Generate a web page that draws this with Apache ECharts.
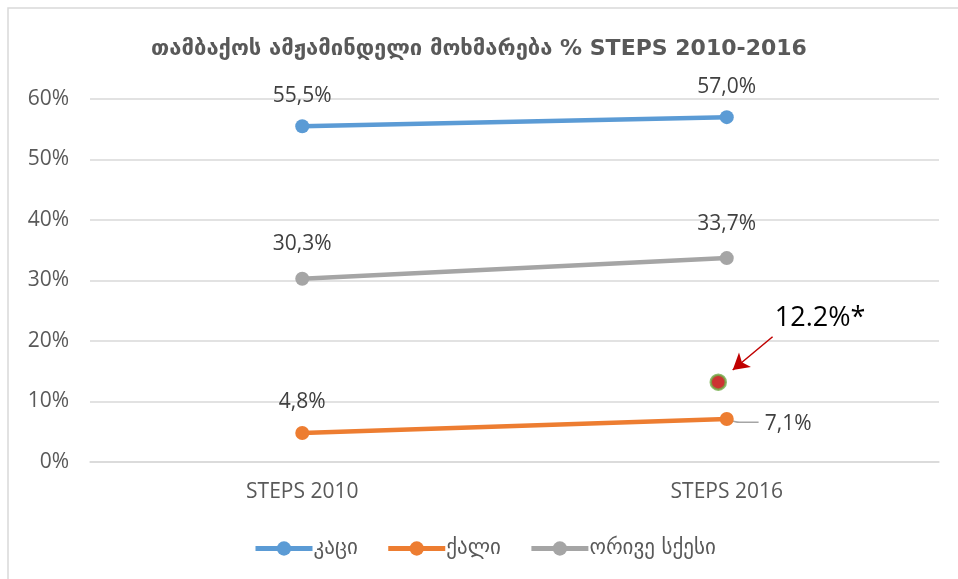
<!DOCTYPE html>
<html><head><meta charset="utf-8">
<script src="https://cdn.jsdelivr.net/npm/echarts@6/dist/echarts.min.js"></script>
<style>html,body{margin:0;padding:0;background:#fff}#c{width:958px;height:579px}</style>
</head><body><div id="c"></div>
<script>
const titleText = 'თამბაქოს ამჟამინდელი მოხმარება % STEPS 2010-2016';
const categories = ['STEPS 2010', 'STEPS 2016'];
const seriesNames = ['კაცი', 'ქალი', 'ორივე სქესი'];
const menValues = [55.5, 57.0];
const womenValues = [4.8, 7.1];
const bothValues = [30.3, 33.7];
const yTicks = [0, 10, 20, 30, 40, 50, 60];
const specialPoint = [0.98, 13.2];
const specialLabel = '12.2%*';
const arrowFrom = [1.108, 20.7];
const arrowTo = [1.014, 15.2];
const specialLabelPos = [1.22, 23.8];
const leaderLine = [[1.0, 7.1], [1.03, 6.55], [1.075, 6.55]];

const FONT = '"Open Sans", "DejaVu Sans", sans-serif';
const GFONT = '"DejaVu Sans", "Open Sans", sans-serif';
const fmt = v => v.toFixed(1).replace('.', ',') + '%';
const colors = ['#5B9BD5', '#ED7D31', '#A5A5A5'];

function lineSeries(name, data, color, labelOpt) {
  return {
    name, type: 'line', data, xAxisIndex: 0, yAxisIndex: 0,
    symbol: 'circle', symbolSize: 14, color,
    lineStyle: { width: 4.5, color }, itemStyle: { color },
    label: Object.assign({ show: true, position: 'top', distance: 12,
      formatter: p => fmt(p.value), fontFamily: FONT, fontSize: 21, color: '#404040' }, labelOpt || {}),
    z: 3
  };
}

const chart = echarts.init(document.getElementById('c'), null, { renderer: 'canvas' });
chart.setOption({
  animation: false,
  backgroundColor: '#fff',
  graphic: [{ type: 'rect', shape: { x: 8, y: 8, width: 980, height: 600 },
    style: { fill: 'none', stroke: '#D9D9D9', lineWidth: 1.5 }, silent: true, z: -1 }],
  title: { text: titleText, left: 'center', top: 33,
    textStyle: { fontFamily: GFONT, fontSize: 22, fontWeight: 'bold', color: '#595959' } },
  legend: { bottom: 15, left: 248, itemWidth: 57, itemHeight: 18, itemGap: 28,
    data: seriesNames,
    lineStyle: { width: 5 },
    textStyle: { fontFamily: GFONT, fontSize: 21, color: '#595959', padding: [0, 0, 0, -4] } },
  grid: { left: 90, right: 19, top: 99, bottom: 117, containLabel: false },
  xAxis: [
    { type: 'category', data: categories, boundaryGap: true,
      axisLine: { show: true, lineStyle: { color: '#D9D9D9', width: 1.5 } },
      axisTick: { show: false },
      axisLabel: { fontFamily: FONT, fontSize: 21, color: '#595959', margin: 20 } },
    { type: 'value', min: -0.5, max: 1.5, show: false, position: 'top' }
  ],
  yAxis: [{ type: 'value', min: 0, max: 60, interval: 10,
    axisLine: { show: false }, axisTick: { show: false },
    splitLine: { lineStyle: { color: '#D9D9D9', width: 1.5 } },
    axisLabel: { fontFamily: FONT, fontSize: 21, color: '#595959', margin: 21,
      formatter: v => yTicks.includes(v) ? v + '%' : '' } }],
  series: [
    lineSeries(seriesNames[0], menValues, colors[0], { distance: 13 }),
    Object.assign(lineSeries(seriesNames[1], womenValues, colors[1], { distance: 13 }), {
      data: womenValues.map((v, i) => i === 1 ? { value: v, label: { position: 'right', distance: 31, offset: [0, 5] } } : v)
    }),
    lineSeries(seriesNames[2], bothValues, colors[2], { distance: 17 }),
    { name: 'leader', type: 'line', xAxisIndex: 1, yAxisIndex: 0, data: leaderLine,
      symbol: 'none', lineStyle: { color: '#A5A5A5', width: 1.5 }, silent: true, z: 2, smooth: 0.3 },
    { name: 'special', type: 'scatter', xAxisIndex: 1, yAxisIndex: 0,
      data: [specialPoint], symbolSize: 15,
      itemStyle: { color: '#C00000', borderColor: '#70AD47', borderWidth: 2.5 },
      markLine: { silent: true, symbol: ['none', 'arrow'], symbolSize: [14, 16],
        lineStyle: { color: '#C00000', width: 1.5, type: 'solid' }, label: { show: false },
        data: [[{ coord: arrowFrom }, { coord: arrowTo }]] },
      markPoint: { silent: true, symbol: 'circle', symbolSize: 1, itemStyle: { color: 'transparent' },
        label: { show: true, formatter: specialLabel, fontFamily: FONT, fontSize: 27, color: '#000' },
        data: [{ coord: specialLabelPos }] },
      z: 4 }
  ]
});
</script></body></html>
